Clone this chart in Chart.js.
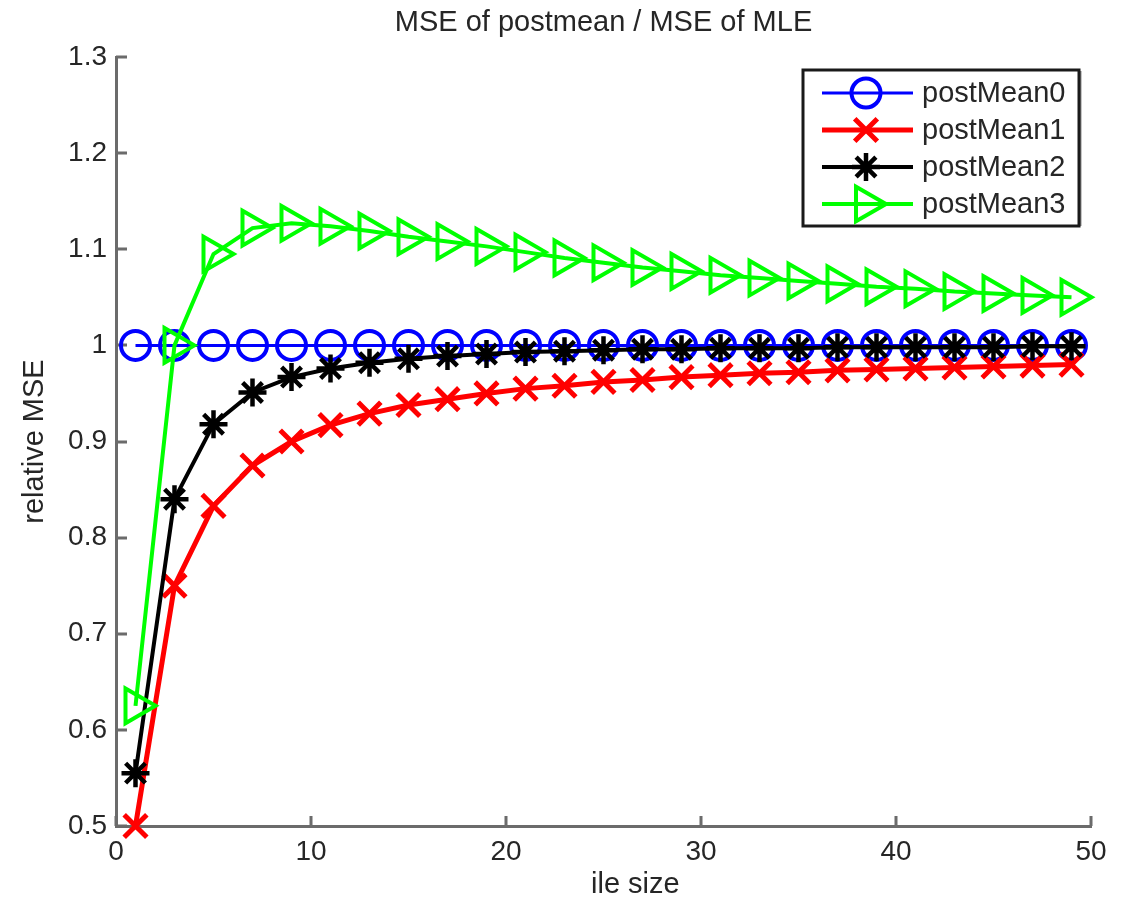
<!DOCTYPE html>
<html>
<head>
<meta charset="utf-8">
<title>MSE of postmean / MSE of MLE</title>
<script src="https://cdn.jsdelivr.net/npm/chart.js@4/dist/chart.umd.min.js"></script>
<style>
  html, body { margin: 0; padding: 0; background: #fff; }
  #wrap { width: 1129px; height: 901px; position: relative; }
</style>
</head>
<body>
<div id="wrap"><canvas id="myChart" width="1129" height="901"></canvas></div>
<script>
// sample sizes on the x axis
let sampleSizes = [1, 3, 5, 7, 9, 11, 13, 15, 17, 19, 21, 23, 25, 27, 29, 31, 33, 35, 37, 39, 41, 43, 45, 47, 49];

// relative MSE for each estimator
let postMean0 = [1, 1, 1, 1, 1, 1, 1, 1, 1, 1, 1, 1, 1, 1, 1, 1, 1, 1, 1, 1, 1, 1, 1, 1, 1];
let postMean1 = [0.5, 0.75, 0.833, 0.875, 0.9, 0.917, 0.929, 0.938, 0.944, 0.95, 0.955, 0.958, 0.962, 0.964, 0.967, 0.969, 0.971, 0.972, 0.974, 0.975, 0.976, 0.977, 0.978, 0.979, 0.98];
let postMean2 = [0.555, 0.84, 0.918, 0.951, 0.967, 0.976, 0.982, 0.986, 0.989, 0.991, 0.993, 0.994, 0.995, 0.996, 0.996, 0.997, 0.997, 0.997, 0.998, 0.998, 0.998, 0.998, 0.998, 0.999, 0.999];
let postMean3 = [0.625, 1.0, 1.095, 1.122, 1.127, 1.124, 1.119, 1.113, 1.108, 1.103, 1.097, 1.091, 1.086, 1.081, 1.077, 1.073, 1.07, 1.067, 1.064, 1.061, 1.059, 1.056, 1.054, 1.052, 1.05];

let seriesNames = ['postMean0', 'postMean1', 'postMean2', 'postMean3'];
let xTicks = [0, 10, 20, 30, 40, 50];
let yTicks = [0.5, 0.6, 0.7, 0.8, 0.9, 1.0, 1.1, 1.2, 1.3];

let titleText = 'MSE of postmean / MSE of MLE';
let xTitle = 'ile size';
let yTitle = 'relative MSE';

let FONT = '"Liberation Sans", Arial, Helvetica, sans-serif';
let TEXT = '#262626';
let AXIS = '#6b6b6b';

function points(ys) {
	return sampleSizes.map(function (x, i) { return { x: x, y: ys[i] }; });
}

let styles = [
	{ color: '#0000ff', pointStyle: 'circle', radius: 14.5, width: 4, line: 3, rotation: 0 },
	{ color: '#ff0000', pointStyle: 'crossRot', radius: 16, width: 5, line: 5, rotation: 0 },
	{ color: '#000000', pointStyle: 'star', radius: 14, width: 4.5, line: 4, rotation: 0 },
	{ color: '#00ff00', pointStyle: 'triangle', radius: 20, width: 4, line: 4, rotation: 90 }
];
let allSeries = [postMean0, postMean1, postMean2, postMean3];

let datasets = allSeries.map(function (ys, i) {
	let s = styles[i];
	return {
		label: seriesNames[i],
		data: points(ys),
		borderColor: s.color,
		borderWidth: s.line,
		backgroundColor: 'rgba(0,0,0,0)',
		pointStyle: s.pointStyle,
		pointRadius: s.radius,
		pointBorderWidth: s.width,
		pointBorderColor: s.color,
		pointBackgroundColor: 'rgba(0,0,0,0)',
		pointRotation: s.rotation,
		tension: 0,
		clip: false,
		order: 4 - i
	};
});

// inward tick marks, matlab style
let innerTicks = {
	id: 'innerTicks',
	beforeDatasetsDraw: function (chart) {
		let ctx = chart.ctx, a = chart.chartArea;
		let xs = chart.scales.x, ys = chart.scales.y;
		ctx.save();
		ctx.strokeStyle = AXIS;
		ctx.lineWidth = 3;
		ctx.beginPath();
		xTicks.forEach(function (v) {
			let px = Math.round(xs.getPixelForValue(v));
			ctx.moveTo(px, a.bottom);
			ctx.lineTo(px, a.bottom - 10);
		});
		yTicks.forEach(function (v) {
			let py = Math.round(ys.getPixelForValue(v));
			ctx.moveTo(a.left, py);
			ctx.lineTo(a.left + 11, py);
		});
		ctx.stroke();
		ctx.restore();
	}
};

// title, axis titles and the boxed legend
let labels = {
	id: 'labels',
	afterDraw: function (chart) {
		let ctx = chart.ctx, a = chart.chartArea;
		ctx.save();
		ctx.fillStyle = TEXT;
		ctx.textAlign = 'center';
		ctx.textBaseline = 'middle';
		ctx.font = '29px ' + FONT;
		ctx.fillText(titleText, (a.left + a.right) / 2, 23);

		ctx.textAlign = 'left';
		ctx.fillText(xTitle, 591, 885);

		ctx.textAlign = 'center';
		ctx.translate(35, (a.top + a.bottom) / 2);
		ctx.rotate(-Math.PI / 2);
		ctx.fillText(yTitle, 0, 0);
		ctx.restore();

		// legend
		let bx = 803, by = 70, bw = 276, bh = 156;
		ctx.save();
		ctx.fillStyle = '#fff';
		ctx.fillRect(bx, by, bw, bh);
		ctx.strokeStyle = '#8a8a8a';
		ctx.lineWidth = 3;
		ctx.beginPath();
		ctx.moveTo(bx + bw + 1, by + 1);
		ctx.lineTo(bx + bw + 1, by + bh);
		ctx.stroke();
		ctx.strokeStyle = '#1a1a1a';
		ctx.lineWidth = 3;
		ctx.strokeRect(bx, by, bw, bh);

		ctx.font = '29px ' + FONT;
		ctx.textAlign = 'left';
		ctx.textBaseline = 'middle';
		chart.data.datasets.forEach(function (ds, i) {
			let ry = 93 + i * 37;
			ctx.strokeStyle = ds.borderColor;
			ctx.lineWidth = ds.borderWidth;
			ctx.beginPath();
			ctx.moveTo(822, ry);
			ctx.lineTo(913, ry);
			ctx.stroke();
			ctx.lineWidth = ds.pointBorderWidth;
			ctx.fillStyle = 'rgba(0,0,0,0)';
			Chart.helpers.drawPoint(ctx, {
				pointStyle: ds.pointStyle,
				radius: ds.pointRadius,
				rotation: ds.pointRotation,
				borderWidth: ds.pointBorderWidth
			}, 866, ry);
			ctx.fillStyle = TEXT;
			ctx.fillText(ds.label, 922, ry + 1);
		});
		ctx.restore();
	}
};

let ctx = document.getElementById('myChart').getContext('2d');
let chart = new Chart(ctx, {
	type: 'line',
	data: { datasets: datasets },
	options: {
		responsive: false,
		animation: false,
		events: [],
		layout: { padding: { top: 57, right: 38, left: 0, bottom: 0 } },
		plugins: {
			legend: { display: false },
			title: { display: false },
			tooltip: { enabled: false }
		},
		scales: {
			x: {
				type: 'linear',
				min: 0,
				max: 50,
				afterFit: function (scale) { scale.height = 75; },
				afterBuildTicks: function (scale) {
					scale.ticks = xTicks.map(function (v) { return { value: v }; });
				},
				grid: { display: false, drawTicks: false },
				border: { display: true, color: AXIS, width: 3 },
				ticks: {
					padding: 9,
					color: TEXT,
					font: { family: FONT, size: 28 },
					maxRotation: 0,
					callback: function (v) { return String(v); }
				}
			},
			y: {
				type: 'linear',
				min: 0.5,
				max: 1.3,
				afterFit: function (scale) { scale.width = 116; },
				afterBuildTicks: function (scale) {
					scale.ticks = yTicks.map(function (v) { return { value: v }; });
				},
				grid: { display: false, drawTicks: false },
				border: { display: true, color: AXIS, width: 3 },
				ticks: {
					padding: 9,
					color: TEXT,
					font: { family: FONT, size: 28 },
					callback: function (v) { return String(+v.toFixed(1)); }
				}
			}
		}
	},
	plugins: [innerTicks, labels]
});
</script>
</body>
</html>
